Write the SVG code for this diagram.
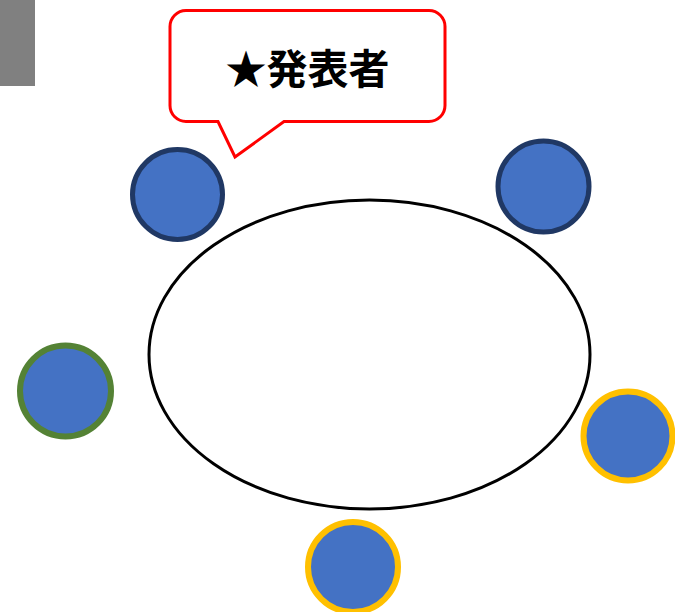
<svg xmlns="http://www.w3.org/2000/svg" width="675" height="612" viewBox="0 0 675 612">
<style>
.seat{fill:#4472C4;}
.navy{stroke:#203864;stroke-width:5;}
.green{stroke:#548235;stroke-width:6;}
.gold{stroke:#FFC000;stroke-width:6;}
.lbl{font-family:"Noto Sans CJK JP","Noto Sans CJK SC",sans-serif;font-weight:bold;font-size:41px;fill:#000;}
</style>
<rect x="0" y="0" width="35" height="86" fill="#808080"/>
<g id="table"><ellipse cx="369.5" cy="354.5" rx="220.5" ry="154.5" fill="#fff" stroke="#000" stroke-width="3"/></g>
<g id="callout">
<path d="M186,10.5 H429 A16,16 0 0 1 445,26.5 V105.5 A16,16 0 0 1 429,121.5 H284 L235,157 L218,121.5 H186 A16,16 0 0 1 170,105.5 V26.5 A16,16 0 0 1 186,10.5 Z" fill="#fff" stroke="#FF0000" stroke-width="3"/>
<text class="lbl" x="307.5" y="84" text-anchor="middle">★発表者</text>
</g>
<g id="seat-presenter"><circle class="seat navy" cx="177.5" cy="194.5" r="45"/></g>
<g id="seat-topright"><circle class="seat navy" cx="543.5" cy="186.5" r="45.5"/></g>
<g id="seat-left"><circle class="seat green" cx="65.5" cy="391" r="45.5"/></g>
<g id="seat-right"><circle class="seat gold" cx="628" cy="436" r="44.5"/></g>
<g id="seat-bottom"><circle class="seat gold" cx="353" cy="567" r="45"/></g>
<g id="connectors"></g>
</svg>
